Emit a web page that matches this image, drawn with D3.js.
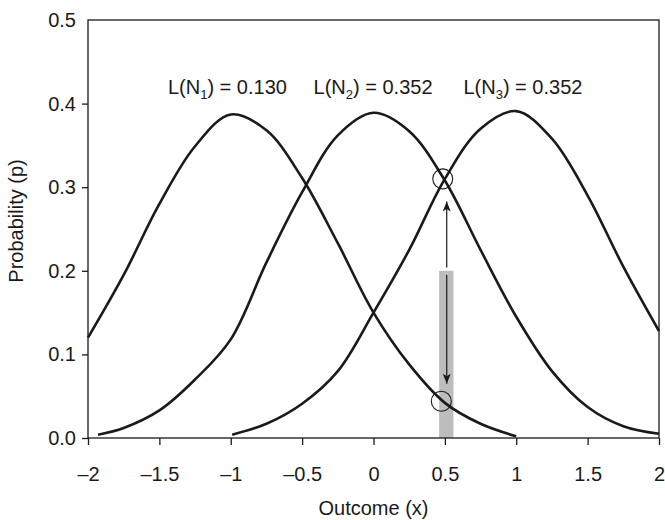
<!DOCTYPE html>
<meta charset="utf-8">
<script src="https://d3js.org/d3.v7.min.js"></script>
<style>
  body { margin: 0; background: #fff; }
  text { font-family: "Liberation Sans", Arial, sans-serif; fill: #1a1a1a; }
</style>
<div id="chart"></div>
<script>
  // curve points
  var n1X = [-2, -1.75, -1.5, -1.25, -1.0, -0.75, -0.5, -0.25, 0, 0.25, 0.5, 0.75, 1.0];
  var n1Y = [0.120, 0.195, 0.280, 0.349, 0.387, 0.368, 0.311, 0.233, 0.150, 0.088, 0.042, 0.017, 0.002];

  var n2X = [-1.93, -1.75, -1.5, -1.25, -1.0, -0.75, -0.5, -0.25, 0, 0.25, 0.5, 0.75, 1.0, 1.25, 1.5, 1.75, 2.0];
  var n2Y = [0.004, 0.012, 0.033, 0.070, 0.118, 0.210, 0.294, 0.362, 0.389, 0.367, 0.308, 0.225, 0.145, 0.080, 0.037, 0.014, 0.005];

  var n3X = [-0.99, -0.75, -0.5, -0.25, 0, 0.25, 0.5, 0.75, 1.0, 1.25, 1.5, 1.75, 2.0];
  var n3Y = [0.004, 0.017, 0.041, 0.080, 0.150, 0.225, 0.310, 0.370, 0.391, 0.358, 0.290, 0.205, 0.128];

  var labels = ["L(N|1|) = 0.130", "L(N|2|) = 0.352", "L(N|3|) = 0.352"];
  var labelX = [-1.44, -0.42, 0.63];

  var xTicks = [-2, -1.5, -1, -0.5, 0, 0.5, 1, 1.5, 2];
  var yTicks = [0, 0.1, 0.2, 0.3, 0.4, 0.5];

  // grey band, arrows and the two marked points
  var band = [0.46, 0.56, 0.2];
  var arrowX = 0.513;
  var arrowUp = [0.204, 0.283];
  var arrowDown = [0.195, 0.065];
  var marks = [[0.485, 0.31], [0.475, 0.044]];

  var margin = {top: 20, right: 6, bottom: 82, left: 88},
      width = 665 - margin.left - margin.right,
      height = 520 - margin.top - margin.bottom;

  var svg = d3.select("#chart").append("svg")
      .attr("width", 665).attr("height", 520)
    .append("g")
      .attr("transform", "translate(" + margin.left + "," + margin.top + ")");

  var x = d3.scaleLinear().domain([-2, 2]).range([0, width]);
  var y = d3.scaleLinear().domain([0, 0.5]).range([height, 0]);

  var defs = svg.append("defs");
  defs.append("marker")
      .attr("id", "head")
      .attr("markerUnits", "userSpaceOnUse")
      .attr("viewBox", "0 0 10 8")
      .attr("refX", 10).attr("refY", 4)
      .attr("markerWidth", 11).attr("markerHeight", 8)
      .attr("orient", "auto")
    .append("path")
      .attr("d", "M0,0 L10,4 L0,8 L2.5,4 Z")
      .attr("fill", "#1a1a1a");

  // grey band
  svg.append("rect")
      .attr("x", x(band[0]))
      .attr("width", x(band[1]) - x(band[0]))
      .attr("y", y(band[2]))
      .attr("height", y(0) - y(band[2]))
      .attr("fill", "#bdbdbd");

  // box
  svg.append("rect")
      .attr("width", width).attr("height", height)
      .attr("fill", "none").attr("stroke", "#1a1a1a").attr("stroke-width", 1.3);

  // axes
  var xAxis = svg.append("g")
      .attr("transform", "translate(0," + height + ")")
      .call(d3.axisBottom(x).tickValues(xTicks).tickSize(7).tickPadding(22)
        .tickFormat(function(d) { return (d < 0 ? "\u2013" : "") + Math.abs(d); }));
  var yAxis = svg.append("g")
      .call(d3.axisLeft(y).tickValues(yTicks).tickSize(6).tickPadding(6)
        .tickFormat(d3.format(".1f")));
  [xAxis, yAxis].forEach(function(a) {
    a.select(".domain").remove();
    a.selectAll("line").attr("stroke", "#1a1a1a").attr("stroke-width", 1.3);
    a.selectAll("text").attr("font-size", 20).attr("fill", "#1a1a1a")
      .style("font-family", "'Liberation Sans', Arial, sans-serif");
  });
  yAxis.select(".tick:last-of-type line").remove();

  // curves
  var line = d3.line()
      .x(function(d) { return x(d[0]); })
      .y(function(d) { return y(d[1]); })
      .curve(d3.curveCatmullRom.alpha(0.5));
  [[n1X, n1Y], [n2X, n2Y], [n3X, n3Y]].forEach(function(s) {
    svg.append("path")
        .datum(d3.zip(s[0], s[1]))
        .attr("d", line)
        .attr("fill", "none")
        .attr("stroke", "#1a1a1a")
        .attr("stroke-width", 2.6)
        .attr("stroke-linejoin", "round");
  });

  // arrows
  [arrowUp, arrowDown].forEach(function(a) {
    svg.append("line")
        .attr("x1", x(arrowX)).attr("x2", x(arrowX))
        .attr("y1", y(a[0])).attr("y2", y(a[1]))
        .attr("stroke", "#1a1a1a").attr("stroke-width", 1.2)
        .attr("marker-end", "url(#head)");
  });

  // circles on the crossings
  svg.selectAll(".mark")
    .data(marks)
    .enter().append("circle")
      .attr("cx", function(d) { return x(d[0]); })
      .attr("cy", function(d) { return y(d[1]); })
      .attr("r", 10)
      .attr("fill", "none")
      .attr("stroke", "#1a1a1a")
      .attr("stroke-width", 1.1);

  // likelihood labels
  labels.forEach(function(t, i) {
    var parts = t.split("|");
    var txt = svg.append("text")
        .attr("x", x(labelX[i]))
        .attr("y", 74)
        .attr("font-size", 20);
    txt.append("tspan").text(parts[0]);
    txt.append("tspan").text(parts[1]).attr("font-size", 13).attr("dy", 5);
    txt.append("tspan").text(parts[2]).attr("dy", -5);
  });

  // axis titles
  svg.append("text")
      .attr("x", width / 2)
      .attr("y", height + 77)
      .attr("text-anchor", "middle")
      .attr("font-size", 20)
      .text("Outcome (x)");
  svg.append("text")
      .attr("transform", "rotate(-90)")
      .attr("x", -height / 2 + 8)
      .attr("y", -65)
      .attr("text-anchor", "middle")
      .attr("font-size", 20)
      .text("Probability (p)");
</script>
